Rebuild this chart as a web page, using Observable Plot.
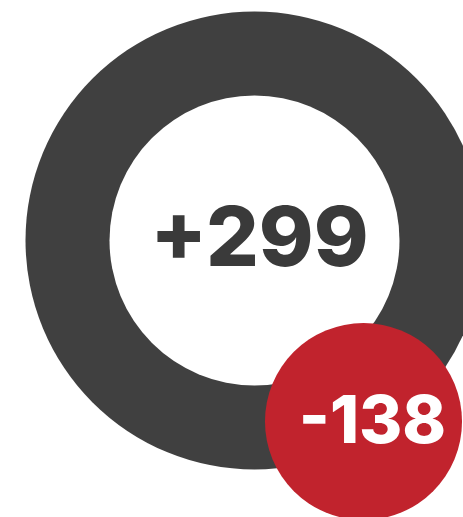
<!DOCTYPE html>
<html>
<head>
<meta charset="utf-8">
<script src="https://cdn.jsdelivr.net/npm/d3@7"></script>
<script src="https://cdn.jsdelivr.net/npm/@observablehq/plot@0.6"></script>
<style>
  html, body { margin: 0; padding: 0; background: #fff; }
  svg { display: block; }
</style>
</head>
<body>
<div id="chart"></div>
<script>
// Data
const labels = ["+299", "-138"];
const values = [299, -138];
const kinds = ["total", "change"];

// Layout (pixels)
const W = 463, H = 517;
const centers = { total: [254, 240], change: [363, 421] };
const ringOuter = 229;

const rows = labels.map((label, i) => ({
  label, value: values[i], kind: kinds[i],
  abs: Math.abs(values[i]),
  cx: centers[kinds[i]][0], cy: centers[kinds[i]][1]
}));
const total = rows.filter(d => d.kind === "total");
const change = rows.filter(d => d.kind === "change");

const chart = Plot.plot({
  width: W, height: H,
  margin: 0,
  style: { background: "#fff", overflow: "hidden" },
  x: { domain: [0, W], range: [0, W], axis: null },
  y: { domain: [0, H], range: [0, H], axis: null },
  r: { type: "sqrt", domain: [0, 299], range: [0, 145] },
  marks: [
    Plot.dot(total, { x: "cx", y: "cy", r: ringOuter, fill: "#404040", stroke: null }),
    Plot.dot(total, { x: "cx", y: "cy", r: "abs", fill: "#ffffff", stroke: null }),
    Plot.text(total, {
      x: "cx", y: "cy", text: "label", dx: 5, dy: -1,
      fill: "#3a3a3a", fontSize: 83, fontWeight: 800,
      fontFamily: "Inter, 'Open Sans', sans-serif", letterSpacing: -2,
      lineAnchor: "middle", textAnchor: "middle"
    }),
    Plot.dot(change, { x: "cx", y: "cy", r: "abs", fill: "#c1232d", stroke: null }),
    Plot.text(change, {
      x: "cx", y: "cy", text: "label", dx: 9,
      fill: "#ffffff", fontSize: 66, fontWeight: 800,
      fontFamily: "Inter, 'Open Sans', sans-serif", letterSpacing: 1,
      lineAnchor: "middle", textAnchor: "middle"
    })
  ]
});
document.getElementById("chart").appendChild(chart);
</script>
</body>
</html>
